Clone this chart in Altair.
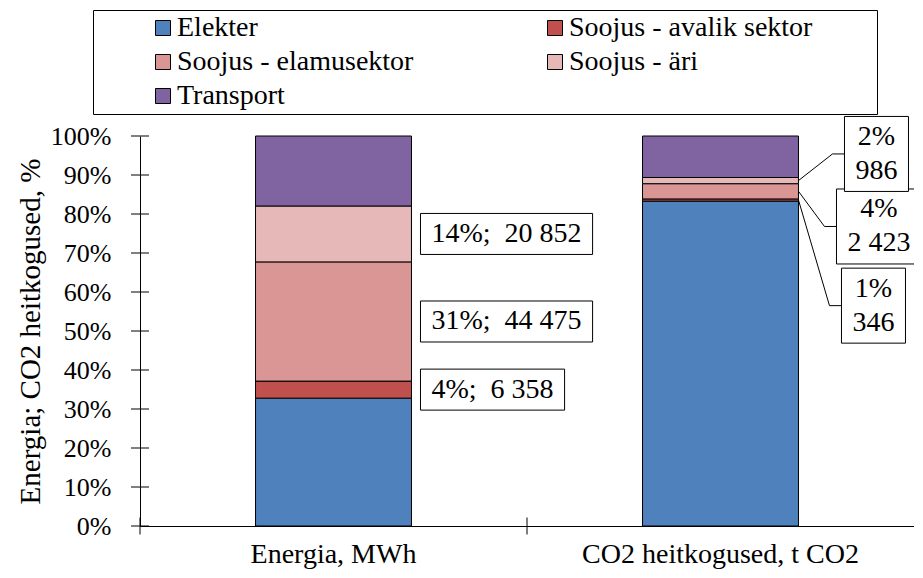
import altair as alt
import pandas as pd

# ---------------- data ----------------
categories = ["Energia, MWh", "CO2 heitkogused, t CO2"]
sectors = ["Elekter", "Soojus - avalik sektor", "Soojus - elamusektor", "Soojus - äri", "Transport"]
energy_mwh = [47700, 6358, 44475, 20852, 26115]
co2_t = [51650, 346, 2423, 986, 6595]
colors = ["#4F81BD", "#C0504D", "#D99694", "#E6B8B7", "#8064A2"]
labelled_sectors = ["Soojus - avalik sektor", "Soojus - elamusektor", "Soojus - äri"]
y_tick_values = [i / 10 for i in range(11)]
category_edges = [0, 1]

# CO2 call-out placement: box centre (share of axis) and gap from bar (px)
co2_box_centre = [0.565, 0.768, 0.954]
co2_box_gap = [43, 38, 46]

# ---------------- layout ----------------
W, H = 774, 390
BAND = W / 2
BAR = 0.403
FONT = "Liberation Serif"
FS = 28
LH = 34


def text_px(s):
    adv = {"%": 0.833, ";": 0.278, " ": 0.25, "\u00a0": 0.25}
    return sum(adv.get(c, 0.5) for c in s) * FS


def fmt(v):
    return f"{v:,}".replace(",", " ")


def segments(vals):
    tot = sum(vals)
    cum = 0
    out = {}
    for s, v in zip(sectors, vals):
        out[s] = (cum / tot, (cum + v) / tot, v / tot, v)
        cum += v
    return out


rows = []
for cat, vals in zip(categories, [energy_mwh, co2_t]):
    for k, (s, v) in enumerate(zip(sectors, vals)):
        rows.append({"cat": cat, "sector": s, "value": v, "order": k})
bars_df = pd.DataFrame(rows)

box_rows, text_e_rows, text_c_rows, line_rows = [], [], [], []

seg_e = segments(energy_mwh)
bar_right_e = 0.5 + BAR / 2
for s in labelled_sectors:
    lo, hi, share, v = seg_e[s]
    txt = f"{round(share * 100)}%;\u00a0 {fmt(v)}"
    w = text_px(txt) + 22
    xl = bar_right_e + 9 / BAND
    xr = xl + w / BAND
    yc = (lo + hi) / 2
    hh = 41 / 2 / H
    box_rows.append({"x": xl, "x2": xr, "y": yc - hh, "y2": yc + hh})
    text_e_rows.append({"x": (xl + xr) / 2, "y": yc, "t": txt})

seg_c = segments(co2_t)
bar_right_c = 1.5 + BAR / 2
for i, s in enumerate(labelled_sectors):
    lo, hi, share, v = seg_c[s]
    txt = f"{round(share * 100)}%\n{fmt(v)}"
    w = max(text_px(p) for p in txt.split("\n")) + 22
    xl = bar_right_c + co2_box_gap[i] / BAND
    xr = xl + w / BAND
    yc = co2_box_centre[i]
    hh = 75 / 2 / H
    box_rows.append({"x": xl, "x2": xr, "y": yc - hh, "y2": yc + hh})
    text_c_rows.append({"x": (xl + xr) / 2, "y": yc, "t": txt})
    line_rows += [
        {"lid": s, "p": 0, "x": bar_right_c, "y": (lo + hi) / 2},
        {"lid": s, "p": 1, "x": xl - 12 / BAND, "y": yc},
        {"lid": s, "p": 2, "x": xl, "y": yc},
    ]

box_df = pd.DataFrame(box_rows)
text_e_df = pd.DataFrame(text_e_rows)
text_c_df = pd.DataFrame(text_c_rows)
line_df = pd.DataFrame(line_rows)

yscale = alt.Scale(domain=[0, 1], nice=False)
xq_scale = alt.Scale(domain=[0, 2], nice=False, zero=False)

bars = alt.Chart(bars_df).mark_bar(
    width={"band": BAR}, stroke="black", strokeWidth=1
).encode(
    x=alt.X(
        "cat:N",
        scale=alt.Scale(domain=categories, paddingInner=0, paddingOuter=0),
        axis=alt.Axis(
            title=None, labelAngle=0, ticks=False, tickSize=0, labelPadding=36,
            labelBaseline="alphabetic", labelFontSize=FS, labelFont=FONT,
            labelColor="black", domainColor="black", labelLimit=500,
        ),
    ),
    y=alt.Y(
        "value:Q", stack="normalize", scale=yscale,
        axis=alt.Axis(
            format=".0%", values=y_tick_values, grid=False, ticks=False, tickSize=0,
            labelPadding=29, labelFontSize=26, labelFont=FONT, labelColor="black",
            domainColor="black", title="Energia; CO2 heitkogused, %",
            titleFont=FONT, titleFontSize=29, titleFontWeight="normal",
            titleColor="black", titleX=-95,
        ),
    ),
    color=alt.Color(
        "sector:N",
        scale=alt.Scale(domain=sectors, range=colors),
        legend=alt.Legend(
            title="\u00a0", titleOrient="right", titlePadding=61,
            orient="none", legendX=-47, legendY=-126, columns=2,
            direction="horizontal",
            gridAlign="all", columnPadding=68, rowPadding=6, padding=4,
            labelFont=FONT, labelFontSize=FS, labelColor="black", labelLimit=500,
            symbolType="square", symbolSize=225, symbolStrokeColor="black",
            symbolStrokeWidth=1, symbolOffset=52, labelOffset=0,
            strokeColor="black",
        ),
    ),
    order=alt.Order("order:Q", sort="ascending"),
)

yticks = alt.Chart(pd.DataFrame({"t": y_tick_values})).mark_tick(
    size=18, thickness=1, color="black", opacity=1
).encode(y=alt.Y("t:Q", scale=yscale, axis=None), x=alt.value(0))

xticks = alt.Chart(pd.DataFrame({"b": category_edges})).mark_tick(
    size=17, thickness=1, color="black", opacity=1
).encode(x=alt.X("b:Q", scale=xq_scale, axis=None), y=alt.value(H))

leaders = alt.Chart(line_df).mark_line(color="black", strokeWidth=1).encode(
    x=alt.X("x:Q", scale=xq_scale, axis=None),
    y=alt.Y("y:Q", scale=yscale, axis=None),
    detail="lid:N",
    order="p:Q",
)

boxes = alt.Chart(box_df).mark_rect(fill="white", stroke="black", strokeWidth=1).encode(
    x=alt.X("x:Q", scale=xq_scale, axis=None),
    x2="x2:Q",
    y=alt.Y("y:Q", scale=yscale, axis=None),
    y2="y2:Q",
)

texts_e = alt.Chart(text_e_df).mark_text(
    font=FONT, fontSize=FS, align="center", baseline="middle", color="black",
).encode(
    x=alt.X("x:Q", scale=xq_scale, axis=None),
    y=alt.Y("y:Q", scale=yscale, axis=None),
    text="t:N",
)

texts_c = alt.Chart(text_c_df).mark_text(
    font=FONT, fontSize=FS, align="center", baseline="middle", color="black",
    lineBreak="\n", lineHeight=LH, dy=-LH / 2,
).encode(
    x=alt.X("x:Q", scale=xq_scale, axis=None),
    y=alt.Y("y:Q", scale=yscale, axis=None),
    text="t:N",
)

chart = alt.layer(bars, leaders, boxes, texts_e, texts_c, yticks, xticks).resolve_scale(
    x="independent"
).resolve_axis(
    x="independent", y="independent"
).properties(
    width=W, height=H, autosize="none",
    padding={"left": 132, "top": 128, "right": 0, "bottom": 44},
).configure(font=FONT).configure_view(stroke=None)

chart.save("out.html", embed_options={"renderer": "svg", "actions": False})
